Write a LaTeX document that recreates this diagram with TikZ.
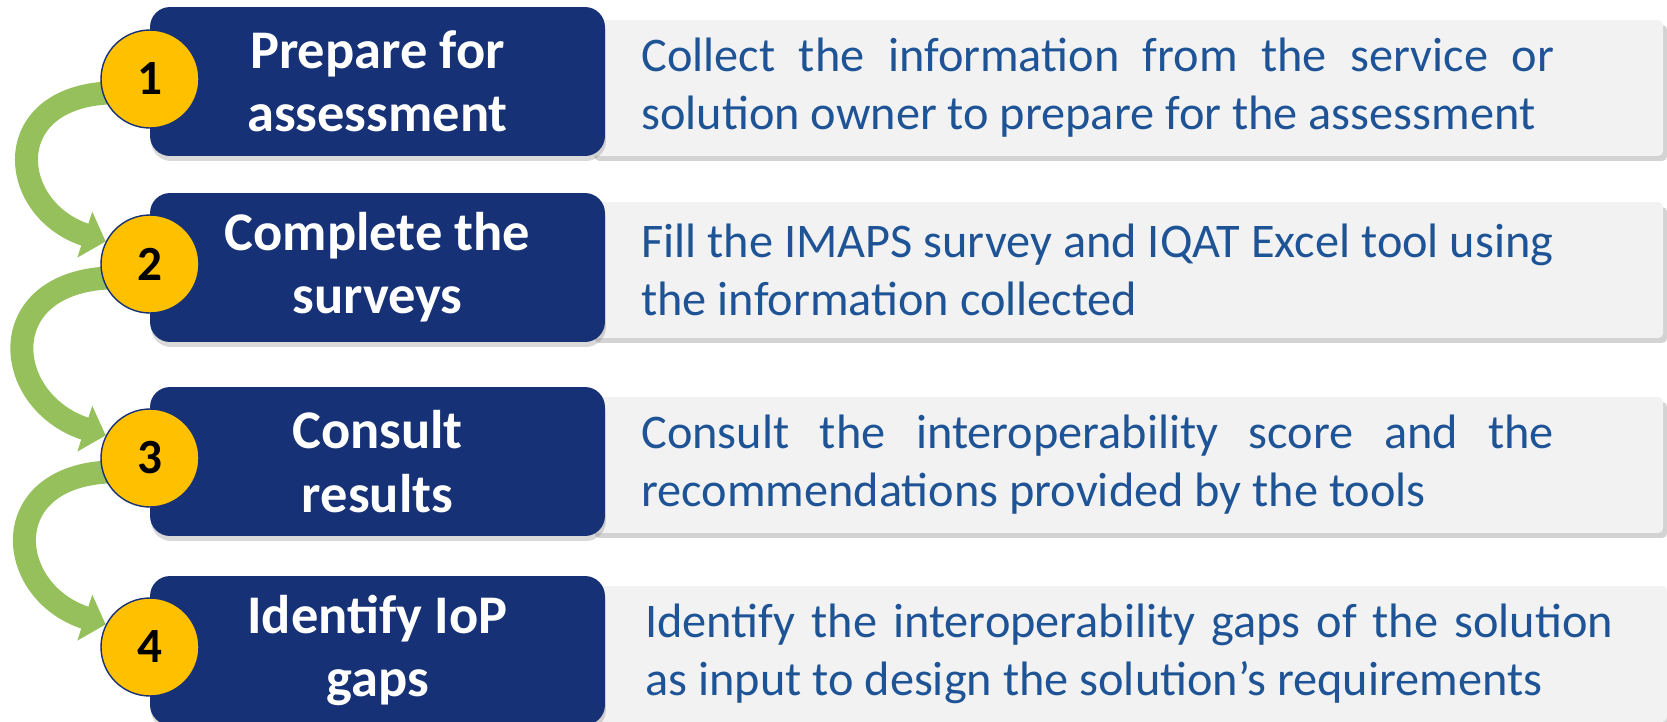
\documentclass[tikz,border=0pt]{standalone}
\usepackage{fontspec}
\setmainfont{Carlito}
\usetikzlibrary{arrows.meta,shadows,backgrounds}
\definecolor{navy}{HTML}{163175}
\definecolor{textblue}{HTML}{1E5496}
\definecolor{gold}{HTML}{FFC000}
\definecolor{leaf}{HTML}{96C05B}
\definecolor{panel}{HTML}{F2F2F2}
\newcommand{\spreadline}[2][18.26cm]{\makebox[#1][s]{#2}}
\begin{document}
\begin{tikzpicture}[x=0.02cm,y=0.02cm,
    stepbox/.style={fill=navy, rounded corners=0.4cm, minimum width=9.1cm, minimum height=2.98cm,
        text=white, align=flush center, font=\fontsize{31}{36}\selectfont\bfseries,
        drop shadow={shadow xshift=0.02cm, shadow yshift=-0.1cm, opacity=0.3}},
    descbox/.style={fill=panel, rounded corners=0.1cm, anchor=west, minimum width=21.46cm, minimum height=2.72cm,
        inner xsep=1.02cm, text width=19.42cm, align=flush left, text=textblue, font=\fontsize{27.5}{33}\selectfont,
        drop shadow={shadow xshift=0.08cm, shadow yshift=-0.1cm, opacity=0.35}},
    numdot/.style={circle, fill=gold, draw=navy, line width=0.8pt, minimum size=1.96cm, inner sep=0pt,
        font=\fontsize{28}{30}\selectfont\bfseries},
    flow/.style={leaf, line width=0.46cm, -{Triangle[width=0.94cm,length=0.44cm]}, shorten <=-0.3cm}]
\useasboundingbox (0,0) rectangle (1667,-721);

% right hand descriptions
\node[descbox] (d1) at (590,-88) {\spreadline{Collect the information from the service or}\\solution owner to prepare for the assessment};
\node[descbox] (d2) at (590,-270) {Fill the IMAPS survey and IQAT Excel tool using\\the information collected};
\node[descbox] (d3) at (590,-465) {\spreadline{Consult the interoperability score and the}\\recommendations provided by the tools};
\node[descbox] (d4) at (594,-654) {\spreadline[19.36cm]{Identify the interoperability gaps of the solution}\\as input to design the solution’s requirements};

% steps
\node[stepbox] (s1) at (377.5,-81.5) {Prepare for\\assessment};
\node[stepbox] (s2) at (377.5,-267.5) {Complete the\\surveys};
\node[stepbox] (s3) at (377.5,-461.5) {Consult\\results};
\node[stepbox] (s4) at (377.5,-650.5) {Identify IoP\\gaps};

\node[numdot] (n1) at (150,-79) {1};
\node[numdot] (n2) at (150,-264) {2};
\node[numdot] (n3) at (150,-458) {3};
\node[numdot] (n4) at (150,-647) {4};

\begin{pgfonlayer}{background}
\draw[flow] (n1.196) to[out=180,in=162,looseness=1.8] (n2.153);
\draw[flow] (n2.196) to[out=180,in=162,looseness=1.8] (n3.153);
\draw[flow] (n3.196) to[out=180,in=162,looseness=1.8] (n4.153);
\end{pgfonlayer}
\end{tikzpicture}
\end{document}
